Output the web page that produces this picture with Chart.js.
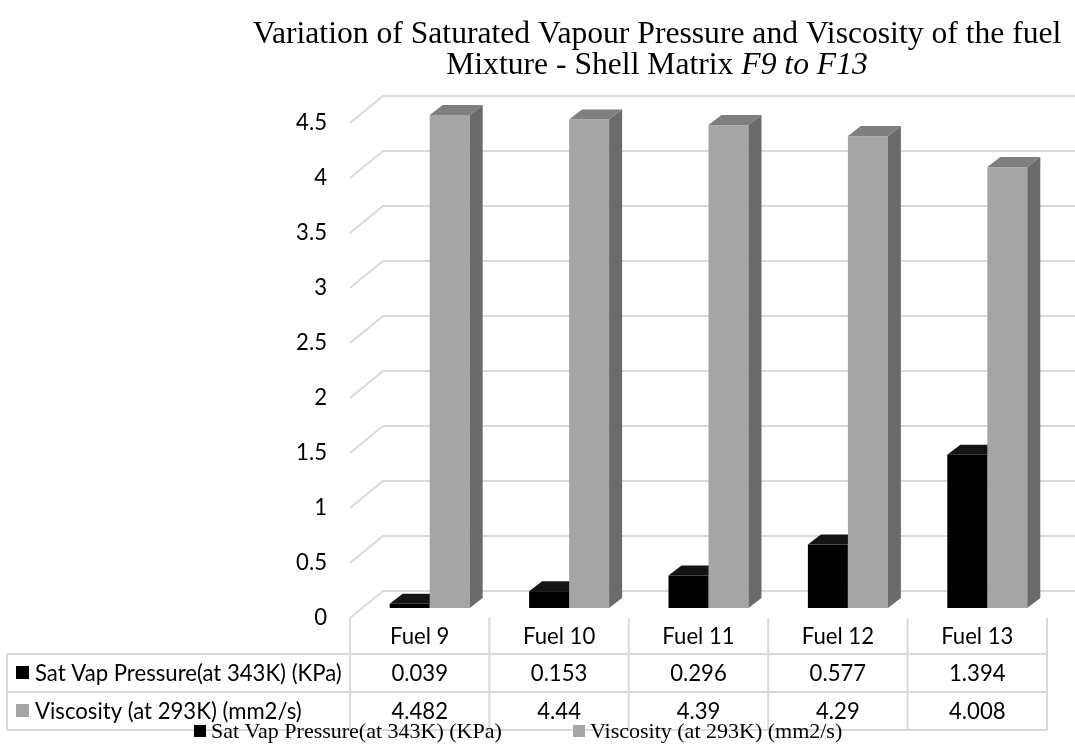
<!DOCTYPE html>
<html>
<head>
<meta charset="utf-8">
<script src="https://cdn.jsdelivr.net/npm/chart.js@4"></script>
<style>
  html, body { margin: 0; padding: 0; background: #fff; }
  #wrap { width: 1075px; height: 746px; }
</style>
</head>
<body>
<div id="wrap"><canvas id="myChart" width="1075" height="746"></canvas></div>
<script>
const categories = ['Fuel 9', 'Fuel 10', 'Fuel 11', 'Fuel 12', 'Fuel 13'];
const satVap = [0.039, 0.153, 0.296, 0.577, 1.394];
const viscosity = [4.482, 4.44, 4.39, 4.29, 4.008];
const seriesNames = ['Sat Vap Pressure(at 343K) (KPa)', 'Viscosity (at 293K) (mm2/s)'];
const yTicks = [0, 0.5, 1, 1.5, 2, 2.5, 3, 3.5, 4, 4.5];

const sansFamily = 'Lato';
const serifFamily = '"Liberation Serif"';

// box depth (back wall offset) and bar depth
const boxDX = 33, boxDY = 27;
const barOffX = 10, barOffY = 10;
const barDX = 13, barDY = 10;
const gridColor = '#d9d9d9';

// pick font sizes so text widths match the picture
const measureCtx = document.createElement('canvas').getContext('2d');
function fitSize(text, font, target) {
    measureCtx.font = font.replace('SIZE', '100px');
    return 100 * target / measureCtx.measureText(text).width;
}
const sansSize = fitSize(seriesNames[0], 'SIZE ' + sansFamily, 307);
const legendSize = fitSize(seriesNames[0], 'SIZE ' + serifFamily, 291);
const titleLine1 = 'Variation of Saturated Vapour Pressure and Viscosity of the fuel';
const titleSize = fitSize(titleLine1, 'SIZE ' + serifFamily, 809);

const colors = [
    { front: '#000000', top: '#141414', side: '#000000' },
    { front: '#a5a5a5', top: '#7f7f7f', side: '#6b6b6b' }
];

const threeD = {
    id: 'threeD',
    beforeDatasetsDraw(chart) {
        const ctx = chart.ctx;
        const y = chart.scales.y;
        const left = chart.chartArea.left;
        ctx.save();
        ctx.strokeStyle = gridColor;
        ctx.lineWidth = 2;
        yTicks.forEach(v => {
            const py = y.getPixelForValue(v);
            ctx.beginPath();
            ctx.moveTo(left, py);
            ctx.lineTo(left + boxDX, py - boxDY);
            ctx.lineTo(chart.width, py - boxDY);
            ctx.stroke();
        });
        ctx.restore();
    },
    afterDatasetsDraw(chart) {
        const ctx = chart.ctx;
        ctx.save();
        for (let i = 0; i < categories.length; i++) {
            chart.data.datasets.forEach((ds, d) => {
                const el = chart.getDatasetMeta(d).data[i];
                const c = colors[d];
                const x0 = el.x - el.width / 2 + barOffX;
                const x1 = el.x + el.width / 2 + barOffX;
                const top = el.y - barOffY;
                const base = el.base - barOffY;
                ctx.fillStyle = c.front;
                ctx.fillRect(x0, top, x1 - x0, base - top);
                ctx.fillStyle = c.top;
                ctx.beginPath();
                ctx.moveTo(x0, top);
                ctx.lineTo(x1, top);
                ctx.lineTo(x1 + barDX, top - barDY);
                ctx.lineTo(x0 + barDX, top - barDY);
                ctx.closePath();
                ctx.fill();
                ctx.fillStyle = c.side;
                ctx.beginPath();
                ctx.moveTo(x1, top);
                ctx.lineTo(x1 + barDX, top - barDY);
                ctx.lineTo(x1 + barDX, base - barDY);
                ctx.lineTo(x1, base);
                ctx.closePath();
                ctx.fill();
            });
        }
        ctx.restore();
    },
    afterDraw(chart) {
        const ctx = chart.ctx;
        const area = chart.chartArea;
        const xs = chart.scales.x;
        const colW = (area.right - area.left) / categories.length;
        const rowTop = area.bottom;
        const rows = [rowTop, 654, 692, 730];
        ctx.save();

        // data table
        ctx.strokeStyle = gridColor;
        ctx.lineWidth = 2;
        ctx.beginPath();
        for (let r = 1; r < rows.length; r++) {
            ctx.moveTo(7, rows[r]);
            ctx.lineTo(area.right, rows[r]);
        }
        ctx.moveTo(7, rows[1]);
        ctx.lineTo(7, rows[3]);
        for (let k = 0; k <= categories.length; k++) {
            const bx = area.left + k * colW;
            ctx.moveTo(bx, rowTop);
            ctx.lineTo(bx, rows[3]);
        }
        ctx.stroke();

        ctx.fillStyle = '#000';
        ctx.font = sansSize + 'px ' + sansFamily;
        ctx.textAlign = 'center';
        ctx.textBaseline = 'middle';
        const seriesData = [satVap, viscosity];
        categories.forEach((cat, i) => {
            const cx = xs.getPixelForValue(i);
            ctx.fillText(cat, cx, (rows[0] + rows[1]) / 2 + 1);
            seriesData.forEach((arr, d) => {
                ctx.fillText(String(arr[i]), cx, (rows[d + 1] + rows[d + 2]) / 2 + 1);
            });
        });
        ctx.textAlign = 'left';
        seriesNames.forEach((name, d) => {
            const my = (rows[d + 1] + rows[d + 2]) / 2;
            ctx.fillStyle = colors[d].front;
            ctx.fillRect(16, my - 7, 13, 13);
            ctx.fillStyle = '#000';
            ctx.fillText(name, 35, my + 1);
        });

        // legend
        ctx.font = legendSize + 'px ' + serifFamily;
        const legendX = [194, 573];
        seriesNames.forEach((name, d) => {
            ctx.fillStyle = colors[d].front;
            ctx.fillRect(legendX[d], 725, 12, 12);
            ctx.fillStyle = '#000';
            ctx.fillText(name, legendX[d] + 17, 732);
        });

        // title
        ctx.textAlign = 'center';
        ctx.font = titleSize + 'px ' + serifFamily;
        ctx.fillText(titleLine1, 657, 35);
        const plain = 'Mixture - Shell Matrix ';
        const ital = 'F9 to F13';
        const wPlain = ctx.measureText(plain).width;
        ctx.font = 'italic ' + titleSize + 'px ' + serifFamily;
        const wItal = ctx.measureText(ital).width;
        const startX = 657 - (wPlain + wItal) / 2;
        ctx.textAlign = 'left';
        ctx.font = titleSize + 'px ' + serifFamily;
        ctx.fillText(plain, startX, 66);
        ctx.font = 'italic ' + titleSize + 'px ' + serifFamily;
        ctx.fillText(ital, startX + wPlain, 66);
        ctx.restore();
    }
};

const ctx = document.getElementById('myChart').getContext('2d');
new Chart(ctx, {
    type: 'bar',
    data: {
        labels: categories,
        datasets: [
            { label: seriesNames[0], data: satVap, backgroundColor: 'rgba(0,0,0,0)' },
            { label: seriesNames[1], data: viscosity, backgroundColor: 'rgba(0,0,0,0)' }
        ]
    },
    options: {
        responsive: false,
        animation: false,
        events: [],
        categoryPercentage: 80 / 139.4,
        barPercentage: 1,
        layout: { padding: { top: 123, bottom: 128, left: 0, right: 28 } },
        plugins: {
            legend: { display: false },
            title: { display: false },
            tooltip: { enabled: false }
        },
        scales: {
            x: { display: false },
            y: {
                min: 0,
                max: 4.5,
                afterFit(scale) { scale.width = 350; },
                afterBuildTicks(scale) { scale.ticks = yTicks.map(v => ({ value: v })); },
                grid: { display: false, drawTicks: false },
                border: { display: false },
                ticks: {
                    padding: 23,
                    color: '#000',
                    font: { family: sansFamily, size: sansSize },
                    callback: v => String(v)
                }
            }
        }
    },
    plugins: [threeD]
});
</script>
</body>
</html>
